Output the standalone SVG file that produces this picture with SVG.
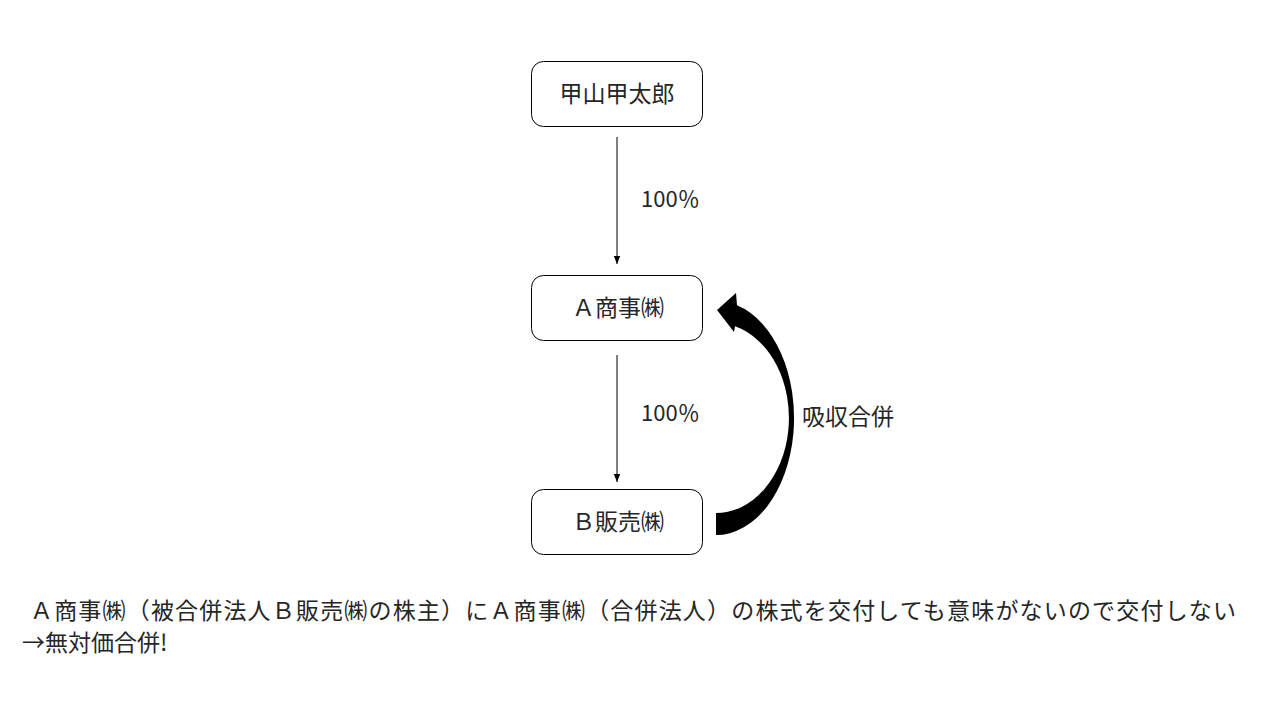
<svg xmlns="http://www.w3.org/2000/svg" width="1280" height="720" viewBox="0 0 1280 720">
<style>
.node rect{fill:#fff;stroke:#000;stroke-width:1}
text{font-family:"Noto Sans CJK JP","Noto Sans",sans-serif;fill:#262626}
.nt{font-size:23px;text-anchor:middle}
.lbl{font-size:22px}
.cap{font-size:23px}
.conn line{stroke:#000;stroke-width:1}
</style>
<defs>
<marker id="ah" markerWidth="8" markerHeight="8" viewBox="0 0 8 8" refX="8" refY="4" orient="auto" markerUnits="userSpaceOnUse">
<path d="M0,0.8 L8,4 L0,7.2 Z" fill="#000"/>
</marker>
</defs>
<rect width="1280" height="720" fill="#fff"/>
<g id="connectors" class="conn">
<line x1="617" y1="137" x2="617" y2="264" marker-end="url(#ah)"/>
<line x1="617" y1="355" x2="617" y2="482" marker-end="url(#ah)"/>
<path id="merge-arrow" d="M716 535 A78 117 0 0 0 737 305.3 L736 293 L717 310 L734 332 L735 326.3 A73 95 0 0 1 716 513 Z" fill="#000"/>
</g>
<g id="node-koyama" class="node">
<rect x="531.5" y="61.5" width="171" height="65" rx="12"/>
<text class="nt" x="617" y="102">甲山甲太郎</text>
</g>
<g id="node-a" class="node">
<rect x="531.5" y="275.5" width="171" height="65" rx="12"/>
<text class="nt" x="618" y="316">Ａ商事㈱</text>
</g>
<g id="node-b" class="node">
<rect x="531.5" y="489.5" width="171" height="65" rx="12"/>
<text class="nt" x="618" y="530">Ｂ販売㈱</text>
</g>
<g id="labels">
<text class="lbl" x="641" y="207">100％</text>
<text class="lbl" x="641" y="421">100％</text>
<text class="lbl" x="802" y="425" style="font-size:23px">吸収合併</text>
</g>
<g id="caption">
<text class="cap" x="30" y="619" textLength="1206" lengthAdjust="spacing">Ａ商事㈱（被合併法人Ｂ販売㈱の株主）にＡ商事㈱（合併法人）の株式を交付しても意味がないので交付しない</text>
<text class="cap" x="22" y="651">→無対価合併!</text>
</g>
</svg>
